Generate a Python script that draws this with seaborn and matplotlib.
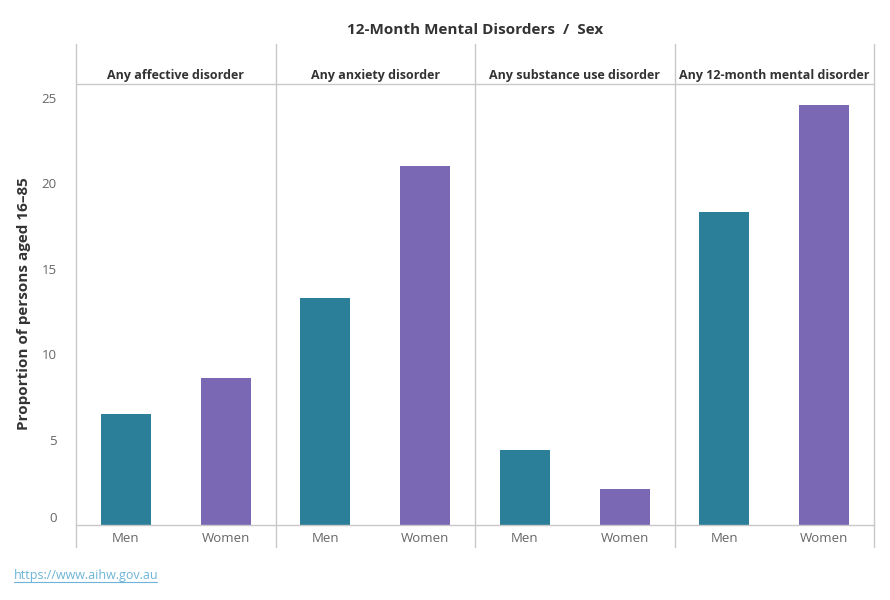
import numpy as np
import pandas as pd
import matplotlib.pyplot as plt
import matplotlib.transforms as mtransforms
from matplotlib.lines import Line2D
import seaborn as sns

# 数据
disorders = ["Any affective disorder", "Any anxiety disorder",
             "Any substance use disorder", "Any 12-month mental disorder"]
sexes = ["Men", "Women"]
men_values = [6.5, 13.3, 4.4, 18.3]
women_values = [8.6, 21.0, 2.1, 24.6]
y_ticks = [0, 5, 10, 15, 20, 25]

colors = {"Men": "#2c7f99", "Women": "#7b68b4"}
grid_color = "#c8c8c8"
text_dark = "#333333"
text_grey = "#666666"

df = pd.DataFrame({
    "disorder": np.repeat(disorders, 2),
    "sex": sexes * len(disorders),
    "value": [v for pair in zip(men_values, women_values) for v in pair],
})

sns.set_style("white")
plt.rcParams["font.family"] = ["Open Sans", "DejaVu Sans"]

W, H = 890, 600
fig = plt.figure(figsize=(W / 100, H / 100), dpi=100)

left, right = 76, 874
top_hdr, top_ax, bottom_ax, bottom_line = 44, 84, 525, 547
pw = (right - left) / len(disorders)


def fx(px):
    return px / W


def fy(py):
    return 1 - py / H


axes = []
for i, d in enumerate(disorders):
    ax = fig.add_axes([fx(left + i * pw), fy(bottom_ax), fx(pw), fy(top_ax) - fy(bottom_ax)])
    sub = df[df["disorder"] == d]
    sns.barplot(data=sub, x="sex", y="value", hue="sex", order=sexes,
                hue_order=sexes, palette=colors, width=0.5, legend=False,
                saturation=1, linewidth=0, ax=ax, errorbar=None)
    ax.set_xlim(-0.5, 1.5)
    ax.set_ylim(0, 25.8)
    ax.set_xlabel("")
    ax.set_ylabel("")
    for s in ["top", "right", "left"]:
        ax.spines[s].set_visible(False)
    ax.spines["bottom"].set_color(grid_color)
    ax.spines["bottom"].set_linewidth(1)
    ax.tick_params(axis="x", length=0, labelsize=9.5, labelcolor=text_grey, pad=5)
    ax.set_yticks(y_ticks)
    if i == 0:
        ax.tick_params(axis="y", length=0, labelsize=9.5, labelcolor=text_grey, pad=14)
        lbl0 = ax.get_yticklabels()[0]
        lbl0.set_transform(lbl0.get_transform() +
                           mtransforms.ScaledTranslation(0, 8 / 100, fig.dpi_scale_trans))
    else:
        ax.tick_params(axis="y", length=0, labelleft=False)
    # 列标题
    fig.text(fx(left + (i + 0.5) * pw), fy(75), d, ha="center", va="center",
             fontsize=9, fontweight="bold", color=text_dark)
    axes.append(ax)

# 分隔线
for i in range(len(disorders) + 1):
    x = fx(left + i * pw)
    fig.add_artist(Line2D([x, x], [fy(top_hdr), fy(bottom_line)], color=grid_color, lw=1))
fig.add_artist(Line2D([fx(left), fx(right)], [fy(top_ax), fy(top_ax)], color=grid_color, lw=1))

fig.text(fx(475), fy(30), "12-Month Mental Disorders  /  Sex", ha="center", va="center",
         fontsize=11, fontweight="bold", color=text_dark)
fig.text(fx(24), fy(304), "Proportion of persons aged 16\u201385", rotation=90,
         ha="center", va="center", fontsize=11, fontweight="bold", color=text_dark)
fig.text(fx(14), fy(575), "https://www.aihw.gov.au", ha="left", va="center",
         fontsize=9, color="#6cb4d8").set_url("https://www.aihw.gov.au")
fig.add_artist(Line2D([fx(14), fx(157)], [fy(582), fy(582)], color="#6cb4d8", lw=0.8))

fig.savefig("out.png", dpi=100)
